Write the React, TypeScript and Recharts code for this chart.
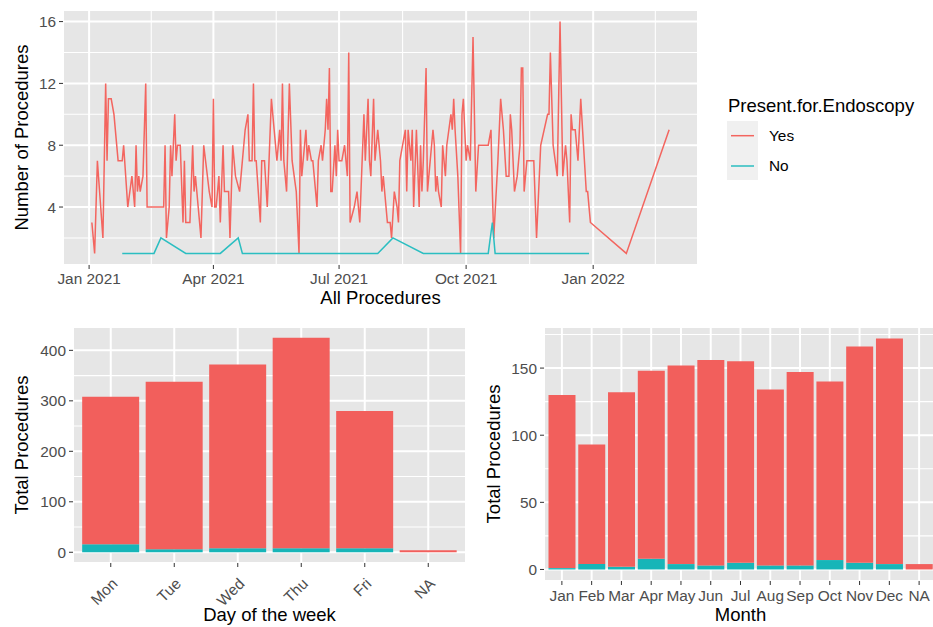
import {
  LineChart,
  Line,
  BarChart,
  Bar,
  XAxis,
  YAxis,
  CartesianGrid,
  Label,
} from "recharts";

const FONT = '"Liberation Sans", Arial, Helvetica, sans-serif';
const RED_LINE = "#F3655F";
const TEAL_LINE = "#2BBEC1";
const RED_BAR = "#F25F5C";
const TEAL_BAR = "#17B5B8";
const PANEL = "#E6E6E6";
const TICK_TEXT = "#4D4D4D";
const TITLE_SIZE = 18.5;
const TICK_SIZE = 15.4;

// daily counts, day = days since 2021-01-01
const yesDays = [
  2, 4, 6, 10, 12, 13, 14, 16, 18, 21, 24, 25, 28, 31, 33, 34, 35, 36, 37, 39,
  41, 42, 54, 55, 56, 58, 59, 60, 62, 63, 64, 66, 68, 69, 70, 73, 75, 76, 77, 81,
  83, 87, 89, 90, 91, 92, 94, 95, 97, 98, 101, 102, 104, 106, 109, 111, 113, 115, 116, 118,
  119, 120, 121, 124, 125, 127, 129, 132, 134, 136, 138, 139, 140, 141, 143, 145, 147, 150, 152, 153,
  154, 157, 158, 159, 161, 162, 163, 165, 166, 168, 169, 171, 172, 173, 174, 175, 176, 178, 179, 180,
  181, 183, 185, 187, 188, 189, 192, 194, 196, 199, 200, 202, 203, 204, 206, 207, 209, 211, 212, 213,
  216, 218, 219, 221, 223, 224, 225, 227, 229, 230, 231, 233, 234, 235, 237, 239, 240, 241, 242, 244,
  245, 247, 249, 250, 251, 252, 253, 255, 256, 258, 259, 262, 263, 264, 265, 267, 269, 270, 271, 273,
  274, 276, 278, 280, 282, 289, 291, 292, 293, 296, 298, 299, 300, 302, 304, 305, 306, 308, 310, 312,
  313, 314, 315, 317, 320, 322, 324, 327, 332, 333, 334, 336, 339, 341, 343, 345, 346, 348, 349, 350,
  352, 354, 356, 358, 360, 361, 363, 389, 420,
];
const yesCounts = [
  3, 1, 7, 2, 12, 7, 11, 11, 10, 7, 7, 8, 4, 6, 4, 8, 5, 6, 5, 6,
  12, 4, 4, 8, 2, 4, 8, 6, 10, 7, 8, 8, 3, 7, 3, 3, 8, 5, 6, 2,
  8, 5, 4, 11, 4, 4, 6, 3, 8, 5, 5, 2, 8, 6, 5, 7, 9, 10, 7, 7,
  12, 7, 7, 3, 7, 7, 4, 11, 9, 7, 9, 7, 12, 7, 5, 12, 7, 5, 1, 9,
  6, 9, 7, 8, 7, 7, 6, 4, 7, 8, 7, 9, 11, 9, 13, 5, 5, 8, 6, 9,
  7, 7, 8, 6, 14, 3, 4, 5, 3, 10, 7, 11, 7, 6, 11, 7, 9, 7, 5, 6,
  3, 3, 2, 5, 4, 3, 7, 8, 9, 5, 9, 7, 9, 4, 9, 4, 8, 5, 7, 13,
  5, 7, 9, 8, 5, 6, 5, 4, 8, 6, 8, 10, 9, 11, 9, 6, 1, 10, 11, 7,
  8, 7, 15, 5, 8, 8, 9, 5, 2, 7, 11, 10, 9, 6, 6, 10, 9, 5, 6, 8,
  13, 13, 5, 7, 7, 7, 2, 8, 10, 10, 14, 8, 6, 16, 6, 8, 7, 3, 10, 9,
  9, 7, 11, 8, 5, 5, 3, 1, 9,
];
const noDays = [24, 47, 52, 70, 95, 108, 111, 209, 220, 242, 289, 292, 294, 362];
const noCounts = [1, 1, 2, 1, 1, 2, 1, 1, 2, 1, 1, 3, 1, 1];

const dateTicks = [0, 90, 181, 273, 365];
const dateTickLabels = ["Jan 2021", "Apr 2021", "Jul 2021", "Oct 2021", "Jan 2022"];

const weekdays = ["Mon", "Tue", "Wed", "Thu", "Fri", "NA"];
const weekdayYes = [292, 332, 364, 417, 272, 4];
const weekdayNo = [16, 6, 8, 8, 8, 0];

const months = ["Jan", "Feb", "Mar", "Apr", "May", "Jun", "Jul", "Aug", "Sep", "Oct", "Nov", "Dec", "NA"];
const monthYes = [129, 89, 130, 140, 148, 153, 150, 131, 144, 133, 161, 168, 4];
const monthNo = [1, 4, 2, 8, 4, 3, 5, 3, 3, 7, 5, 4, 0];

const yesSeries = yesDays.map((day, i) => ({ day, count: yesCounts[i] }));
const noSeries = noDays.map((day, i) => ({ day, count: noCounts[i] }));
const weekdayData = weekdays.map((day, i) => ({ day, Yes: weekdayYes[i], No: weekdayNo[i] }));
const monthData = months.map((month, i) => ({ month, Yes: monthYes[i], No: monthNo[i] }));

const tickStyle = { fill: TICK_TEXT, fontSize: TICK_SIZE };
const tickLine = { stroke: "#333333" };

function AngledTick(props: any) {
  const { x, y, payload } = props;
  const y0 = y + 8;
  return (
    <text
      x={x}
      y={y0}
      dy="0.71em"
      textAnchor="end"
      fill={TICK_TEXT}
      fontSize={TICK_SIZE}
      transform={`rotate(-45 ${x} ${y0})`}
    >
      {payload.value}
    </text>
  );
}

function TrendPanel() {
  return (
    <LineChart width={698} height={312} margin={{ top: 10, right: 0, bottom: 0, left: 0 }}>
      <CartesianGrid
        fill={PANEL}
        stroke="#ffffff"
        strokeWidth={1.1}
        horizontalValues={[2, 6, 10, 14]}
        verticalValues={[45, 135.5, 227, 319, 410]}
      />
      <CartesianGrid stroke="#ffffff" strokeWidth={2} />
      <XAxis
        type="number"
        dataKey="day"
        domain={[-18.9, 440.9]}
        allowDataOverflow
        ticks={dateTicks}
        interval={0}
        tickFormatter={(v: number) => dateTickLabels[dateTicks.indexOf(v)]}
        axisLine={false}
        tickLine={tickLine}
        tickSize={4}
        tickMargin={4}
        tick={tickStyle}
        height={47}
      >
        <Label value="All Procedures" position="insideBottom" offset={8} fontSize={TITLE_SIZE} fill="#000" />
      </XAxis>
      <YAxis
        type="number"
        domain={[0.25, 16.75]}
        allowDataOverflow
        ticks={[4, 8, 12, 16]}
        interval={0}
        axisLine={false}
        tickLine={tickLine}
        tickSize={4}
        tickMargin={3}
        tick={tickStyle}
        width={63}
      >
        <Label
          value="Number of Procedures"
          angle={-90}
          position="insideLeft"
          offset={21}
          fontSize={TITLE_SIZE}
          fill="#000"
          style={{ textAnchor: "middle" }}
        />
      </YAxis>
      <Line
        data={yesSeries}
        dataKey="count"
        type="linear"
        stroke={RED_LINE}
        strokeWidth={1.5}
        dot={false}
        isAnimationActive={false}
      />
      <Line
        data={noSeries}
        dataKey="count"
        type="linear"
        stroke={TEAL_LINE}
        strokeWidth={1.5}
        dot={false}
        isAnimationActive={false}
      />
    </LineChart>
  );
}

function TrendLegend() {
  return (
    <svg width={233} height={110} style={{ position: "absolute", left: 700, top: 80 }}>
      <text x={28} y={31.5} fontSize={TITLE_SIZE} fill="#000">
        Present.for.Endoscopy
      </text>
      <rect x={27} y={41} width={31} height={59} fill="#F0F0F0" />
      <line x1={31} x2={54} y1={55.7} y2={55.7} stroke={RED_LINE} strokeWidth={1.5} />
      <line x1={31} x2={54} y1={86} y2={86} stroke={TEAL_LINE} strokeWidth={1.5} />
      <text x={69} y={61.4} fontSize={TICK_SIZE} fill="#000">
        Yes
      </text>
      <text x={69} y={90.8} fontSize={TICK_SIZE} fill="#000">
        No
      </text>
    </svg>
  );
}

function WeekdayPanel() {
  return (
    <BarChart
      width={470}
      height={311}
      data={weekdayData}
      margin={{ top: 11, right: 4, bottom: 0, left: 0 }}
      barCategoryGap="5%"
    >
      <CartesianGrid
        fill={PANEL}
        stroke="#ffffff"
        strokeWidth={1.1}
        vertical={false}
        horizontalValues={[50, 150, 250, 350]}
      />
      <CartesianGrid stroke="#ffffff" strokeWidth={2} />
      <XAxis
        dataKey="day"
        padding={{ left: 6, right: 6 }}
        axisLine={false}
        tickLine={tickLine}
        tickSize={4}
        tick={<AngledTick />}
        interval={0}
        height={64}
      >
        <Label value="Day of the week" position="insideBottom" offset={6} fontSize={TITLE_SIZE} fill="#000" />
      </XAxis>
      <YAxis
        type="number"
        domain={[-21.25, 446.25]}
        allowDataOverflow
        ticks={[0, 100, 200, 300, 400]}
        interval={0}
        axisLine={false}
        tickLine={tickLine}
        tickSize={4}
        tickMargin={3}
        tick={tickStyle}
        width={73}
      >
        <Label
          value="Total Procedures"
          angle={-90}
          position="insideLeft"
          offset={21}
          fontSize={TITLE_SIZE}
          fill="#000"
          style={{ textAnchor: "middle" }}
        />
      </YAxis>
      <Bar dataKey="No" stackId="a" fill={TEAL_BAR} isAnimationActive={false} />
      <Bar dataKey="Yes" stackId="a" fill={RED_BAR} isAnimationActive={false} />
    </BarChart>
  );
}

function MonthPanel() {
  return (
    <BarChart
      width={470}
      height={311}
      data={monthData}
      margin={{ top: 11, right: 3, bottom: 0, left: 0 }}
      barCategoryGap="5%"
    >
      <CartesianGrid
        fill={PANEL}
        stroke="#ffffff"
        strokeWidth={1.1}
        vertical={false}
        horizontalValues={[25, 75, 125, 175]}
      />
      <CartesianGrid stroke="#ffffff" strokeWidth={2} />
      <XAxis
        dataKey="month"
        padding={{ left: 3, right: 3 }}
        axisLine={false}
        tickLine={tickLine}
        tickSize={4}
        tickMargin={5}
        tick={tickStyle}
        interval={0}
        height={46}
      >
        <Label value="Month" position="insideBottom" offset={6} fontSize={TITLE_SIZE} fill="#000" />
      </XAxis>
      <YAxis
        type="number"
        domain={[-8.6, 180.6]}
        allowDataOverflow
        ticks={[0, 50, 100, 150]}
        interval={0}
        axisLine={false}
        tickLine={tickLine}
        tickSize={4}
        tickMargin={3}
        tick={tickStyle}
        width={74}
      >
        <Label
          value="Total Procedures"
          angle={-90}
          position="insideLeft"
          offset={23}
          fontSize={TITLE_SIZE}
          fill="#000"
          style={{ textAnchor: "middle" }}
        />
      </YAxis>
      <Bar dataKey="No" stackId="a" fill={TEAL_BAR} isAnimationActive={false} />
      <Bar dataKey="Yes" stackId="a" fill={RED_BAR} isAnimationActive={false} />
    </BarChart>
  );
}

export default function App() {
  return (
    <div
      style={{
        position: "absolute",
        left: 0,
        top: 0,
        width: 933,
        height: 627,
        overflow: "hidden",
        background: "#ffffff",
        fontFamily: FONT,
      }}
    >
      <div style={{ position: "absolute", left: 0, top: 0 }}>
        <TrendPanel />
      </div>
      <TrendLegend />
      <div style={{ position: "absolute", left: 0, top: 316 }}>
        <WeekdayPanel />
      </div>
      <div style={{ position: "absolute", left: 470, top: 316, width: 463, overflow: "hidden" }}>
        <MonthPanel />
      </div>
    </div>
  );
}
